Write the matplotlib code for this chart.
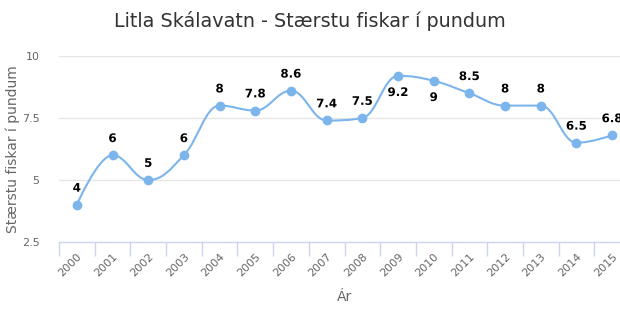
import matplotlib
matplotlib.use("Agg")
import matplotlib.pyplot as plt
import matplotlib.patheffects as pe
from matplotlib.path import Path
from matplotlib.patches import PathPatch
import numpy as np

years = ["2000", "2001", "2002", "2003", "2004", "2005", "2006", "2007",
         "2008", "2009", "2010", "2011", "2012", "2013", "2014", "2015"]
fish = [4, 6, 5, 6, 8, 7.8, 8.6, 7.4, 7.5, 9.2, 9, 8.5, 8, 8, 6.5, 6.8]
y_ticks = [2.5, 5, 7.5, 10]
y_tick_labels = ["2.5", "5", "7.5", "10"]

LINE = "#7cb5ec"
AXIS = "#ccd6eb"
GRID = "#e6e6e6"


def spline_path(xs, ys, smoothing=1.5):
    # highcharts-like spline: per point left/right control points
    n = len(xs)
    left = [None] * n
    right = [None] * n
    for i in range(1, n - 1):
        lx, ly = xs[i - 1], ys[i - 1]
        px, py = xs[i], ys[i]
        nx, ny = xs[i + 1], ys[i + 1]
        d = smoothing + 1
        lcx = (smoothing * px + lx) / d
        lcy = (smoothing * py + ly) / d
        rcx = (smoothing * px + nx) / d
        rcy = (smoothing * py + ny) / d
        corr = ((rcy - lcy) * (rcx - px)) / (rcx - lcx) + py - rcy
        lcy += corr
        rcy += corr
        if lcy > ly and lcy > py:
            lcy = max(ly, py)
            rcy = 2 * py - lcy
        elif lcy < ly and lcy < py:
            lcy = min(ly, py)
            rcy = 2 * py - lcy
        if rcy > ny and rcy > py:
            rcy = max(ny, py)
            lcy = 2 * py - rcy
        elif rcy < ny and rcy < py:
            rcy = min(ny, py)
            lcy = 2 * py - rcy
        left[i] = (lcx, lcy)
        right[i] = (rcx, rcy)
    verts = [(xs[0], ys[0])]
    codes = [Path.MOVETO]
    for i in range(1, n):
        c1 = right[i - 1] if right[i - 1] else (xs[i - 1], ys[i - 1])
        c2 = left[i] if left[i] else (xs[i], ys[i])
        verts += [c1, c2, (xs[i], ys[i])]
        codes += [Path.CURVE4] * 3
    return Path(verts, codes)


fig = plt.figure(figsize=(6.2, 3.3), dpi=100)
ax = fig.add_axes([59 / 620, 88 / 330, 571 / 620, 186 / 330])

x = np.arange(len(years))
ax.set_xlim(-0.5, len(years) - 0.5)
ax.set_ylim(2.5, 10)

for v in y_ticks[1:]:
    ax.axhline(v, color=GRID, lw=1, zorder=1)

ax.add_patch(PathPatch(spline_path(list(x), fish), fill=False,
                       edgecolor=LINE, lw=1.5, zorder=3, clip_on=False))
ax.plot(x, fish, "o", color=LINE, ms=6, mec=LINE, zorder=4, clip_on=False)

for xi, v in zip(x, fish):
    below = v > 8.8
    ax.annotate(f"{v:g}", (xi, v), xytext=(0, -12 if below else 12),
                textcoords="offset points", ha="center", va="center",
                fontsize=8.5, fontweight="bold", color="#000000",
                family="DejaVu Sans", zorder=5, annotation_clip=False,
                path_effects=[pe.withStroke(linewidth=2.5, foreground="white")])

for s in ["top", "right", "left"]:
    ax.spines[s].set_visible(False)
ax.spines["bottom"].set_color(AXIS)
ax.spines["bottom"].set_linewidth(1)

ax.set_yticks(y_ticks)
ax.set_yticklabels(y_tick_labels)
ax.tick_params(axis="y", length=0, pad=14, labelsize=8, labelcolor="#666666")

ax.set_xticks(np.arange(len(years) + 1) - 0.5, minor=False)
ax.set_xticklabels([])
ax.set_xticks(x, minor=True)
ax.set_xticklabels(years, minor=True, rotation=45, ha="right",
                   rotation_mode="anchor")
ax.tick_params(axis="x", which="major", length=10, color=AXIS, width=1)
ax.tick_params(axis="x", which="minor", length=0, pad=7, labelsize=8,
               labelcolor="#666666")

ax.set_ylabel("Stærstu fiskar í pundum", fontsize=10, color="#666666")
ax.yaxis.set_label_coords(-39 / 571, 0.5)
ax.set_xlabel("Ár", fontsize=10, color="#666666", labelpad=8)

fig.text(310 / 620, 1 - 21 / 330, "Litla Skálavatn - Stærstu fiskar í pundum",
         ha="center", va="center", fontsize=13.8, color="#333333")

fig.savefig("out.png", dpi=100)
